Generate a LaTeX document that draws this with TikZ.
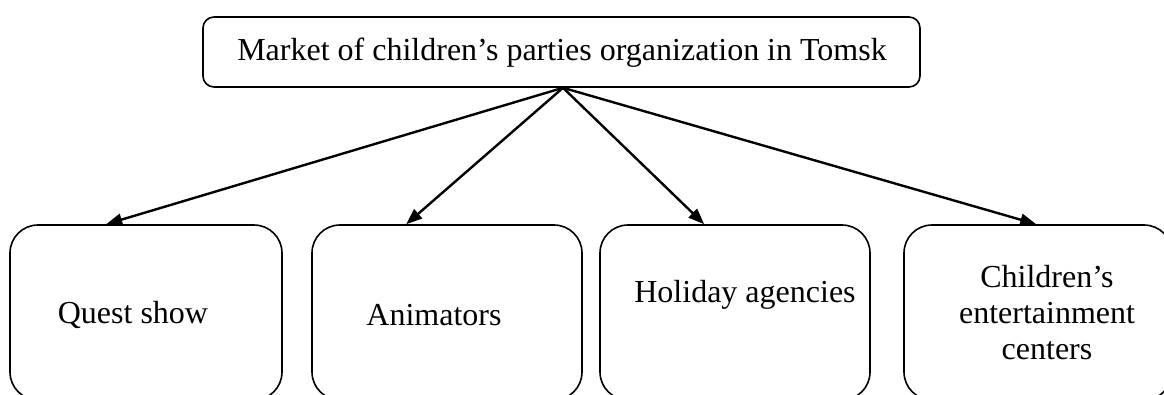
\documentclass[tikz,border=0pt]{standalone}
\usepackage{fontspec}
\setmainfont{Liberation Serif}
\usetikzlibrary{arrows.meta,calc}
\begin{document}
\begin{tikzpicture}[x=1pt,y=-1pt,
  topbox/.style={draw,line width=1.6pt,rounded corners=11pt,minimum width=717pt,minimum height=70pt,inner sep=0pt},
  catbox/.style={draw,line width=1.6pt,rounded corners=28pt,minimum height=175pt,inner sep=0pt},
  lbl/.style={font=\fontsize{32}{36}\selectfont,align=center,inner sep=0pt},
  link/.style={line width=2.4pt,-{Triangle[length=16pt,width=12pt]}}]
\clip (0,0) rectangle (1164,394);
\node[topbox] (top) at (561.5,52) {};
\node[lbl] (toptext) at (562,53) {Market of children’s parties organization in Tomsk};
\node[catbox,minimum width=272pt] (b1) at (146,312.5) {};
\node[catbox,minimum width=270pt] (b2) at (447,312.5) {};
\node[catbox,minimum width=270pt] (b3) at (735,312.5) {};
\node[catbox,minimum width=268pt] (b4) at (1038,312.5) {};
\node[lbl] (t1) at (133,315) {Quest show};
\node[lbl] (t2) at (434,315) {Animators};
\node[lbl] (t3) at (745,295) {Holiday agencies};
\node[lbl] (t4) at (1047,313) {Children’s\\entertainment\\centers};
\coordinate (apex) at ($(top.south)+(1.5,0)$);
\coordinate (e1) at ($(b1.north west)+(97,0)$);
\coordinate (e2) at ($(b2.north west)+(95,0)$);
\coordinate (e3) at ($(b3.north west)+(105,0)$);
\coordinate (e4) at ($(b4.north west)+(133,0)$);
\draw[link] (apex) -- (e1);
\draw[link] (apex) -- (e2);
\draw[link] (apex) -- (e3);
\draw[link] (apex) -- (e4);
\end{tikzpicture}
\end{document}
